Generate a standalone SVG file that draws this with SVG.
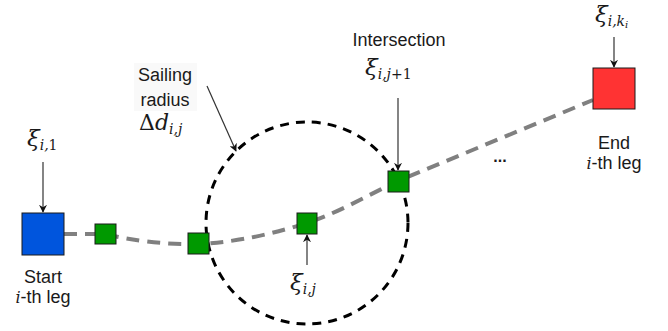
<svg xmlns="http://www.w3.org/2000/svg" width="668" height="331" viewBox="0 0 668 331">
<defs>
<style>
.lbl{font-family:"Liberation Sans",Arial,sans-serif;font-size:18px;fill:#1a1a1a;text-anchor:middle}
.math{font-family:"DejaVu Serif","Liberation Serif",serif;font-style:italic;fill:#1a1a1a}
.mi{font-family:"DejaVu Serif","Liberation Serif",serif;font-style:italic;font-size:16px}
.ptr{stroke:#333;stroke-width:1.2;fill:none;marker-end:url(#ah)}
.wp{fill:#009900;stroke:#1a1a1a;stroke-width:1}
</style>
<marker id="ah" viewBox="0 0 10 10" refX="9" refY="5" markerWidth="8" markerHeight="8" markerUnits="userSpaceOnUse" orient="auto">
<path d="M0,0 L10,5 L0,10 L3,5 Z" fill="#111"/>
</marker>
</defs>
<rect width="668" height="331" fill="#fff"/>

<g id="connectors">
<path id="route" d="M64,234 L105,234 C130,240 165,245 198,244 C240,242 275,233 307,223 C340,212 368,195 398,181 L593,100" fill="none" stroke="#808080" stroke-width="4" stroke-dasharray="13,8"/>
<circle id="sailing-circle" cx="307" cy="223" r="101" fill="none" stroke="#000" stroke-width="3" stroke-dasharray="9,7"/>
<line class="ptr" x1="43" y1="162" x2="43" y2="212"/>
<line class="ptr" x1="207" y1="86" x2="236" y2="151"/>
<line class="ptr" x1="398" y1="98" x2="398" y2="170"/>
<line class="ptr" x1="614" y1="37" x2="614" y2="67"/>
<line class="ptr" x1="307" y1="265" x2="307" y2="235"/>
</g>

<g id="start-node">
<rect x="22" y="213" width="42" height="42" fill="#0055dd" stroke="#1a1a1a" stroke-width="1"/>
<text class="lbl" x="43" y="283">Start</text>
<text class="lbl" x="43" y="303"><tspan class="mi">i</tspan>-th leg</text>
<text class="math" x="27" y="146" font-size="23">ξ<tspan font-size="14" dy="4">i,</tspan><tspan font-size="14" font-style="normal">1</tspan></text>
</g>

<g id="waypoint-1"><rect class="wp" x="95" y="224" width="21" height="20"/></g>
<g id="waypoint-2"><rect class="wp" x="188" y="233" width="21" height="21"/></g>
<g id="waypoint-j">
<rect class="wp" x="297" y="213" width="20" height="21"/>
<text class="math" x="290" y="290" font-size="23">ξ<tspan font-size="14" dy="4">i,j</tspan></text>
</g>
<g id="intersection">
<rect class="wp" x="388" y="171" width="21" height="21"/>
<text class="lbl" x="399" y="46">Intersection</text>
<text class="math" x="365" y="75" font-size="23">ξ<tspan font-size="14" dy="4">i,j</tspan><tspan font-size="14" font-style="normal">+1</tspan></text>
</g>

<g id="sailing-radius">
<rect x="134" y="63" width="63" height="48" fill="#f9f9f9"/>
<text class="lbl" x="165" y="81">Sailing</text>
<text class="lbl" x="165" y="106">radius</text>
<text class="math" x="139" y="130" font-size="22"><tspan font-style="normal">Δ</tspan>d<tspan font-size="14" dy="4">i,j</tspan></text>
</g>

<g id="ellipsis"><text x="500" y="162" font-family="Liberation Sans,Arial,sans-serif" font-size="16" font-weight="bold" text-anchor="middle" fill="#1a1a1a">...</text></g>

<g id="end-node">
<rect x="593" y="68" width="42" height="41" fill="#ff3333" stroke="#1a1a1a" stroke-width="1"/>
<text class="lbl" x="614" y="149">End</text>
<text class="lbl" x="614" y="169"><tspan class="mi">i</tspan>-th leg</text>
<text class="math" x="595" y="22" font-size="23">ξ<tspan font-size="14" dy="4">i,k</tspan><tspan font-size="10" dy="2">i</tspan></text>
</g>
</svg>
